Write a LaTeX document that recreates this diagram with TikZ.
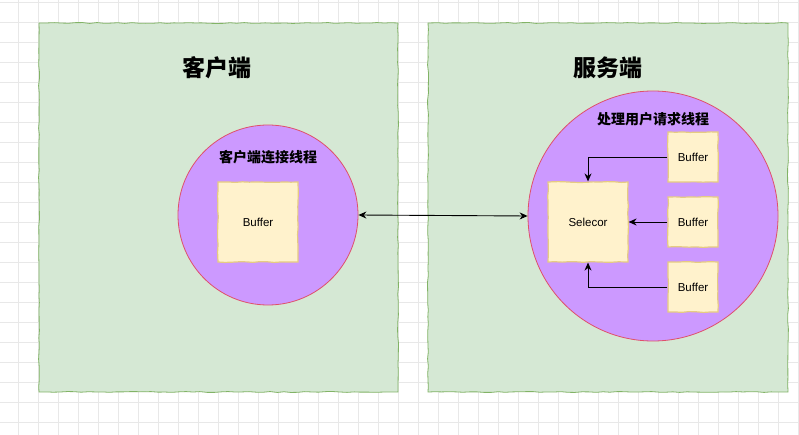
\documentclass[tikz,border=0pt]{standalone}
\usepackage{fontspec}
\setmainfont{Liberation Sans}
\newfontfamily\cjk{Noto Sans CJK SC}
\usetikzlibrary{arrows.meta,decorations.pathmorphing}
\definecolor{panelfill}{HTML}{D5E8D4}
\definecolor{panelline}{HTML}{82B366}
\definecolor{threadfill}{HTML}{CC99FF}
\definecolor{threadline}{HTML}{E0506A}
\definecolor{buffill}{HTML}{FFF2CC}
\definecolor{bufline}{HTML}{E6CB82}
\definecolor{gridc}{HTML}{E8E8E8}
\tikzset{
  sketch/.style={decorate,decoration={random steps,segment length=7pt,amplitude=0.45pt}},
  panel/.style={draw=panelline,fill=panelfill,line width=0.8pt,sketch,inner sep=0pt},
  thread/.style={circle,draw=threadline,fill=threadfill,line width=0.8pt,inner sep=0pt},
  buf/.style={draw=bufline,fill=buffill,line width=1.2pt,sketch,inner sep=0pt,font=\fontsize{11.5}{13}\selectfont},
  title/.style={font=\cjk\bfseries\fontsize{23}{26}\selectfont},
  tlabel/.style={font=\cjk\bfseries\fontsize{14}{16}\selectfont},
  arr/.style={draw=black,line width=0.9pt,-{Stealth[length=8pt,width=7pt]}},
  darr/.style={draw=black,line width=0.9pt,{Stealth[length=8pt,width=7pt]}-{Stealth[length=8pt,width=7pt]}},
}
\begin{document}
\begin{tikzpicture}[x=1pt,y=-1pt]
\pgfmathsetseed{7}
\fill[white] (0,0) rectangle (799,435);
\useasboundingbox (0,0) rectangle (799,435);
\foreach \x in {18,38,...,798} \draw[gridc,line width=0.6pt] (\x,0) -- (\x,435);
\foreach \y in {2,22,...,434} \draw[gridc,line width=0.6pt] (0,\y) -- (799,\y);

\node[panel,minimum width=359pt,minimum height=369pt] (client) at (218.5,207.5) {};
\node[panel,minimum width=360pt,minimum height=369pt] (server) at (608,207.5) {};
\node[title] (ctitle) at (217,68) {客户端};
\node[title] (stitle) at (608,68) {服务端};

\node[thread,minimum size=180pt] (cthread) at (268,215) {};
\node[tlabel] (clabel) at (268,157) {客户端连接线程};
\node[buf,minimum size=80pt] (cbuf) at (258,222) {Buffer};

\node[thread,minimum size=250pt] (sthread) at (653,216) {};
\node[tlabel] (slabel) at (653,119) {处理用户请求线程};
\node[buf,minimum size=80pt] (sel) at (588,222) {Selecor};
\node[buf,minimum size=50pt] (b1) at (693,157) {Buffer};
\node[buf,minimum size=50pt] (b2) at (693,222) {Buffer};
\node[buf,minimum size=50pt] (b3) at (693,287) {Buffer};

\draw[arr] (b1.west) -| (sel.north);
\draw[arr] (b2.west) -- (sel.east);
\draw[arr] (b3.west) -| (sel.south);
\draw[darr] (cthread.east) -- (sthread.west);
\end{tikzpicture}
\end{document}
